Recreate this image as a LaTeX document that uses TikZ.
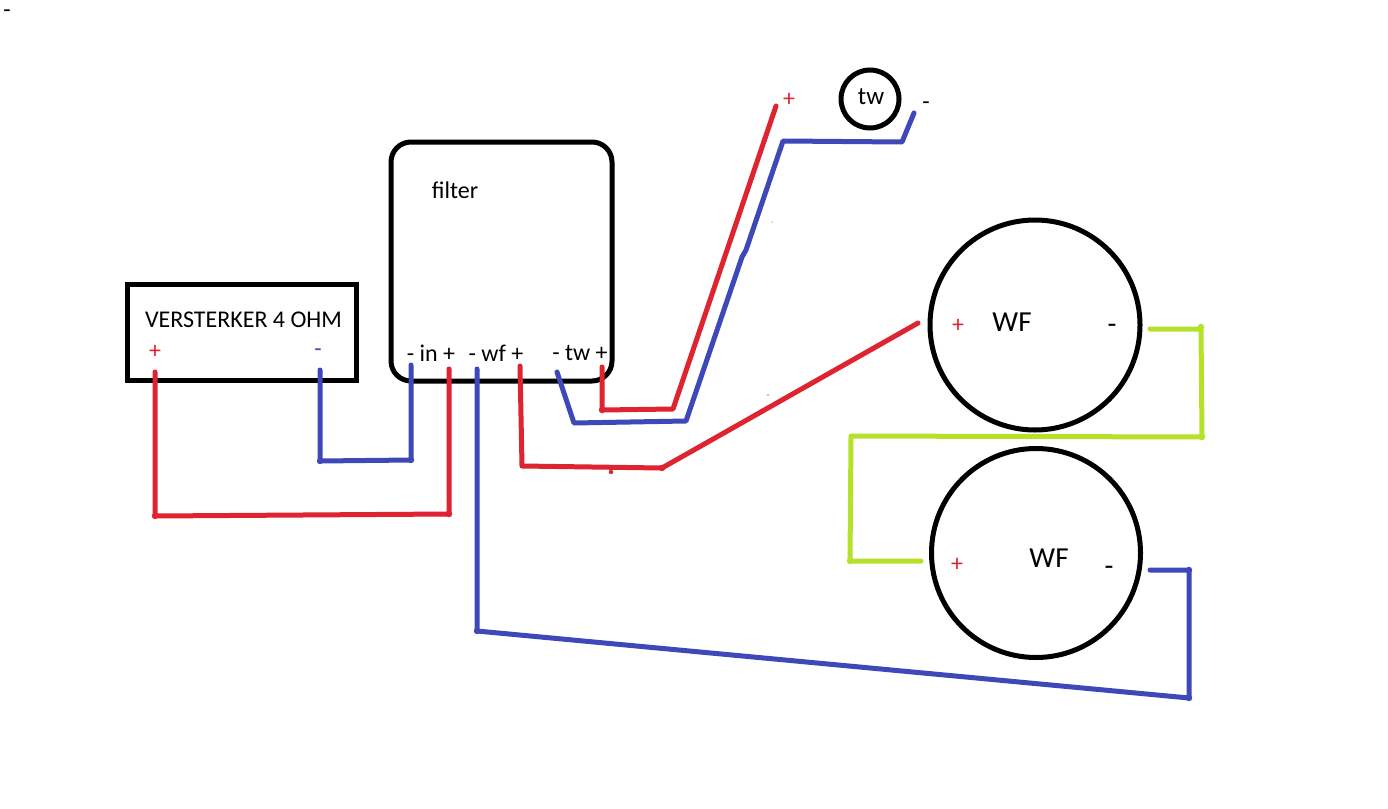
\documentclass[tikz,border=0pt]{standalone}
\usepackage{fontspec}
\setmainfont{Carlito}
\definecolor{wred}{RGB}{222,36,48}
\definecolor{wblue}{RGB}{63,72,184}
\definecolor{wgreen}{RGB}{181,226,40}
\tikzset{
  wire/.style={line width=5pt,line join=round,line cap=round},
  redwire/.style={wire,draw=wred},
  bluewire/.style={wire,draw=wblue},
  greenwire/.style={wire,draw=wgreen},
  lab/.style={inner sep=0pt,font=\fontsize{24}{24}\selectfont,text=black},
  biglab/.style={inner sep=0pt,font=\fontsize{29}{29}\selectfont,text=black},
  redlab/.style={inner sep=0pt,font=\fontsize{24}{24}\selectfont,text=wred},
  bluelab/.style={inner sep=0pt,font=\fontsize{24}{24}\selectfont,text=wblue},
  speaker/.style={circle,draw=black,line width=5pt,inner sep=0pt},
}
\begin{document}
\begin{tikzpicture}[x=1pt,y=-1pt]
\useasboundingbox (0,0) rectangle (1388,808);
\fill[white] (0,0) rectangle (1388,808);
% boxes
\node[draw=black,line width=5pt,inner sep=0pt,minimum width=229pt,minimum height=96pt] (amp) at (241.5,332) {};
\node[draw=black,line width=5pt,inner sep=0pt,rounded corners=20pt,minimum width=221pt,minimum height=239pt] (filter) at (501.5,261.5) {};
\node[speaker,minimum size=58pt] (tw) at (870,99) {};
\node[speaker,minimum size=210pt] (wfa) at (1035,325) {};
\node[speaker,minimum size=209pt] (wfb) at (1036,553) {};
% terminals
\coordinate (ampP) at (155,372);
\coordinate (ampN) at (320,370);
\coordinate (inN) at (411,365);
\coordinate (inP) at (449,369);
\coordinate (wfN) at (477,369);
\coordinate (wfP) at (520,366);
\coordinate (twN) at (557,372);
\coordinate (twP) at (602,367);
\coordinate (twRed) at (776,106);
\coordinate (twBlue) at (914,113);
\coordinate (aP) at (918,323);
\coordinate (aN) at (1150,329);
\coordinate (bP) at (921,561);
\coordinate (bN) at (1150,570);
% wires
\draw[redwire] (ampP) -- (155,516) -- (449,514) -- (inP);
\draw[bluewire] (ampN) -- (320,461) -- (411,460) -- (inN);
\draw[bluewire] (wfN) -- (477,631) -- (1189,698) -- (1189,570) -- (bN);
\draw[redwire] (wfP) -- (522,466) -- (662,468) -- (aP);
\draw[bluewire] (twN) -- (574,423) -- (686,421) -- (742,257) -- (746,250) -- (783,141) -- (902,142) -- (twBlue);
\draw[redwire] (twP) -- (602,410) -- (673,409) -- (twRed);
\draw[greenwire] (aN) -- (1201,329) -- (1202,437) -- (851,436) -- (850,561) -- (bP);
% corner blobs
\fill[wred] (155,516) circle (3.2pt) (449,514) circle (3.2pt) (602,410) circle (3.2pt) (662,468) circle (3.2pt);
\fill[wblue] (320,461) circle (3.2pt) (411,460) circle (3.2pt) (477,631) circle (3.2pt) (1189,698) circle (3.2pt) (1189,570) circle (3.2pt);
\fill[wgreen] (1201,327) circle (3.2pt) (1202,437) circle (3.2pt) (850,561) circle (3.2pt);
% specks
\fill[wred] (611,472) circle (2.2pt);
\fill[black] (772,222) circle (0.5pt);
\fill[black] (768,395) circle (0.7pt);
% labels
\node[lab] (tl) at (7,14) {-};
\node[lab] (ampl) at (243.5,320) {VERSTERKER 4 OHM};
\node[redlab] (ampPl) at (155,352) {+};
\node[bluelab] (ampNl) at (318,353) {-};
\node[lab] (fl) at (455,190) {filter};
\node[lab] (inl) at (431,353) {- in +};
\node[lab] (wfl) at (496,353) {- wf +};
\node[lab] (twl) at (580,353) {- tw +};
\node[redlab] (twPl) at (789,100) {+};
\node[lab,font=\fontsize{25}{25}\selectfont] (twt) at (871,97) {tw};
\node[lab] (twNl) at (926,106) {-};
\node[biglab] (wfat) at (1012,322) {WF};
\node[redlab] (aPl) at (958,326) {+};
\node[biglab] (aNl) at (1112,329) {-};
\node[biglab] (wfbt) at (1049,558) {WF};
\node[redlab] (bPl) at (957,565) {+};
\node[biglab] (bNl) at (1109,571) {-};
\end{tikzpicture}
\end{document}
